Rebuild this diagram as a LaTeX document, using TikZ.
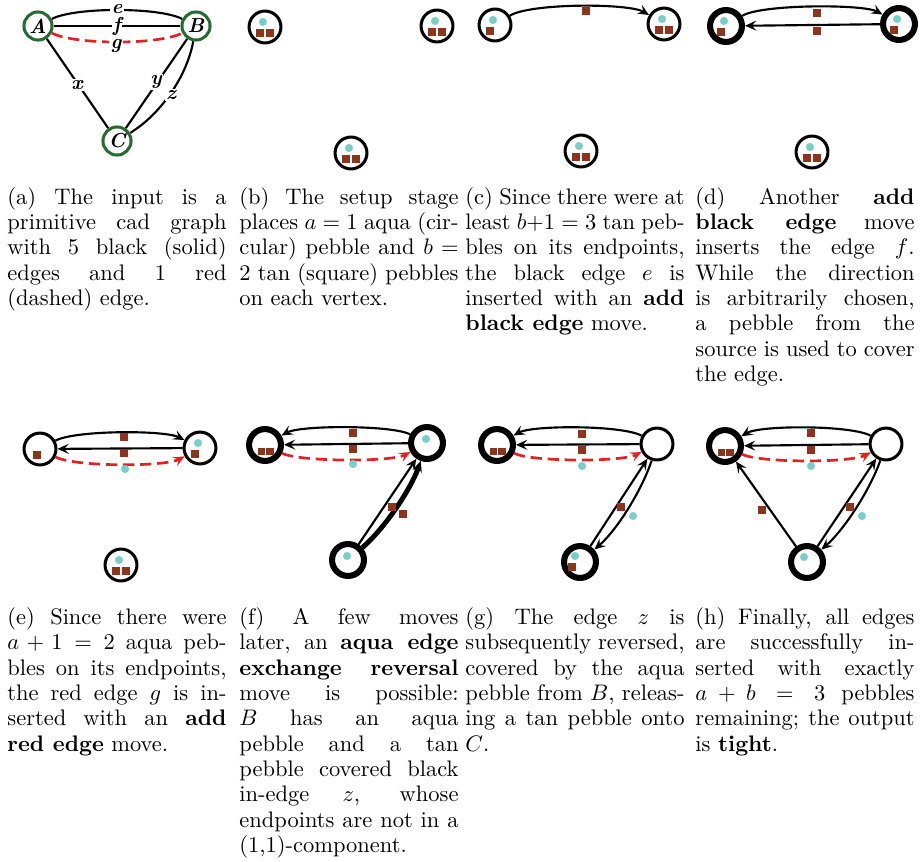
\documentclass[tikz,border=0pt]{standalone}
\usetikzlibrary{arrows.meta}
\definecolor{aquap}{RGB}{120,206,200}
\definecolor{tanp}{RGB}{142,52,28}
\definecolor{redd}{RGB}{228,32,36}
\definecolor{grn}{RGB}{38,108,48}
\newlength\capw
\setlength\capw{97.5pt}
\newcommand\capl[1]{\hbox to\capw{#1}}
\newcommand\cape[1]{\hbox{#1}}
\newcommand\captext[1]{\vtop{\baselineskip=11.28pt\lineskiplimit=-20pt\relax #1}}
\tikzset{
  >={Stealth[length=5pt,width=4.4pt,inset=2pt]},
  vtx/.style={circle, draw, line width=1.35pt, minimum size=14.2pt, inner sep=0pt},
  vtxb/.style={vtx, line width=2.7pt},
  gvtx/.style={circle, draw=grn, line width=1.35pt, minimum size=12.5pt, inner sep=0pt, font=\fontsize{9}{10}\selectfont\bfseries\itshape},
  edg/.style={line width=0.95pt},
  edgb/.style={line width=2.2pt},
  redl/.style={draw=redd, line width=1.2pt, dash pattern=on 5pt off 2.6pt},
  aq/.style={circle, fill=aquap, minimum size=3.6pt, inner sep=0pt},
  tn/.style={rectangle, fill=tanp, minimum size=3.4pt, inner sep=0pt},
  elab/.style={fill=white, inner sep=0.6pt, font=\fontsize{9}{10}\selectfont\bfseries\itshape},
  captxt/.style={anchor=base west, inner sep=0pt},
}
% pebble groups on a vertex
\newcommand\pfull[1]{%
  \node[aq] (#1-a) at ([shift={(-2,-5)}]#1.center) {};
  \node[tn] (#1-s1) at ([shift={(-5,6)}]#1.center) {};
  \node[tn] (#1-s2) at ([shift={(5,6)}]#1.center) {};}
\newcommand\pone[1]{%
  \node[aq] (#1-a) at ([shift={(-2,-5)}]#1.center) {};
  \node[tn] (#1-s1) at ([shift={(-5,6)}]#1.center) {};}
\newcommand\ptwo[1]{%
  \node[tn] (#1-s1) at ([shift={(-3.5,6.5)}]#1.center) {};
  \node[tn] (#1-s2) at ([shift={(5,6.5)}]#1.center) {};}
\newcommand\paq[1]{%
  \node[aq] (#1-a) at ([shift={(-1,-4)}]#1.center) {};}
\begin{document}
\begin{tikzpicture}[x=0.445pt,y=-0.445pt]
\useasboundingbox (0,0) rectangle (924,861);
% ---------------- (a)
\node[gvtx] (aA) at (38,26) {A};
\node[gvtx] (aB) at (196,26) {B};
\node[gvtx] (aC) at (117,141) {C};
\draw[edg] (aA) .. controls (75,7) and (159,7) .. (aB);
\draw[edg] (aA) -- (aB);
\draw[redl] (aA) .. controls (75,45) and (159,45) .. (aB);
\draw[edg] (aA) -- (aC);
\draw[edg] (aB) -- (aC);
\draw[edg] (aB) .. controls (187,76) and (161,114) .. (aC);
\node[elab] (le) at (117,9) {e};
\node[elab] (lf) at (117,26) {f};
\node[elab] (lg) at (116,46) {g};
\node[elab] (lx) at (77,85) {x};
\node[elab] (ly) at (156,82) {y};
\node[elab] (lz) at (171,95) {z};
% ---------------- (b)
\node[vtx] (bA) at (265,27) {};
\node[vtx] (bB) at (437,26) {};
\node[vtx] (bC) at (351,153) {};
\pfull{bA}\pfull{bB}\pfull{bC}
% ---------------- (c)
\node[vtx] (cA) at (495,25) {};
\node[vtx] (cB) at (664,24) {};
\node[vtx] (cC) at (581,151) {};
\draw[edg,->] (cA) .. controls (530,3) and (629,3) .. (cB);
\node[tn] (ce) at (586,11) {};
\pone{cA}\pfull{cB}\pfull{cC}
% ---------------- (d)
\node[vtxb] (dA) at (726,26) {};
\node[vtxb] (dB) at (899,24) {};
\node[vtx] (dC) at (812,152) {};
\draw[edg,->] (dA) .. controls (761,4) and (864,4) .. (dB);
\draw[edg,->] (dB) -- (dA);
\node[tn] (de) at (817,13) {};
\node[tn] (df) at (817,31) {};
\pone{dA}\pone{dB}\pfull{dC}
% ---------------- (e)
\node[vtx] (eA) at (40,449) {};
\node[vtx] (eB) at (200,448) {};
\node[vtx] (eC) at (121,565) {};
\draw[edg,->] (eA) .. controls (75,430) and (165,430) .. (eB);
\draw[edg,->] (eB) -- (eA);
\draw[redl,->] (eA) .. controls (75,467) and (165,467) .. (eB);
\node[tn] (ee) at (124,437) {};
\node[tn] (ef) at (124,453) {};
\node[aq] (eg) at (125,469) {};
\node[tn] (eA-s1) at ([shift={(-3,6)}]eA.center) {};
\pone{eB}\pfull{eC}
% ---------------- (f)
\node[vtxb] (fA) at (265,445) {};
\node[vtxb] (fB) at (427,443) {};
\node[vtxb] (fC) at (348,560) {};
\draw[edg,->] (fB) .. controls (392,425) and (300,425) .. (fA);
\draw[edg,->] (fB) -- (fA);
\draw[redl,->] (fA) .. controls (300,462) and (392,462) .. (fB);
\draw[edg,->] (fC) -- (fB);
\draw[edgb,->] (fC) .. controls (385,528) and (411,489) .. (fB);
\node[tn] (fe) at (353,433) {};
\node[tn] (ff) at (353,449) {};
\node[aq] (fg) at (353,464) {};
\node[tn] (fy) at (392,507) {};
\node[tn] (fz) at (403,514) {};
\ptwo{fA}\paq{fB}\paq{fC}
% ---------------- (g)
\node[vtxb] (gA) at (497,445) {};
\node[vtx] (gB) at (657,444) {};
\node[vtxb] (gC) at (580,562) {};
\draw[edg,->] (gB) .. controls (622,425) and (532,425) .. (gA);
\draw[edg,->] (gB) -- (gA);
\draw[redl,->] (gA) .. controls (532,462) and (622,462) .. (gB);
\draw[edg,->] (gC) -- (gB);
\draw[edg,->] (gB) .. controls (642,490) and (617,530) .. (gC);
\node[tn] (ge) at (582,434) {};
\node[tn] (gf) at (582,450) {};
\node[aq] (gg) at (582,466) {};
\node[tn] (gy) at (621,507) {};
\node[aq] (gz) at (633,516) {};
\ptwo{gA}
\node[aq] (gC-a) at ([shift={(-5,-6)}]gC.center) {};
\node[tn] (gC-s1) at ([shift={(-8,5)}]gC.center) {};
% ---------------- (h)
\node[vtxb] (hA) at (725,446) {};
\node[vtx] (hB) at (886,444) {};
\node[vtxb] (hC) at (807,562) {};
\draw[edg,->] (hB) .. controls (851,425) and (760,425) .. (hA);
\draw[edg,->] (hB) -- (hA);
\draw[redl,->] (hA) .. controls (760,463) and (851,463) .. (hB);
\draw[edg,->] (hC) -- (hA);
\draw[edg,->] (hC) -- (hB);
\draw[edg,->] (hB) .. controls (870,490) and (844,530) .. (hC);
\node[tn] (he) at (811,433) {};
\node[tn] (hf) at (811,450) {};
\node[aq] (hg) at (811,466) {};
\node[tn] (hx) at (762,510) {};
\node[tn] (hy) at (850,507) {};
\node[aq] (hz) at (862,516) {};
\ptwo{hA}
\node[aq] (hC-a) at ([shift={(-3,-5)}]hC.center) {};
% ---------------- captions
\node[captxt] (ca) at (7,204) {\captext{%
\capl{(a) The input is a}
\capl{primitive cad graph}
\capl{with 5 black (solid)}
\capl{edges and 1 red}
\cape{(dashed) edge.}}};
\node[captxt] (cb) at (239,204) {\captext{%
\capl{(b) The setup stage}
\capl{places $a=1$ aqua (cir-}
\capl{cular) pebble and $b=$}
\capl{2 tan (square) pebbles}
\cape{on each vertex.}}};
\node[captxt] (cc) at (465,204) {\captext{%
\capl{(c) Since there were at}
\capl{least $b{+}1=3$ tan peb-}
\capl{bles on its endpoints,}
\capl{the black edge $e$ is}
\capl{inserted with an \textbf{add}}
\cape{\textbf{black edge} move.}}};
\node[captxt] (cd) at (695,204) {\captext{%
\capl{(d) Another \textbf{add}}
\capl{\textbf{black edge} move}
\capl{inserts the edge $f$.}
\capl{While the direction}
\capl{is arbitrarily chosen,}
\capl{a pebble from the}
\capl{source is used to cover}
\cape{the edge.}}};
\node[captxt] (cpe) at (7,624.5) {\captext{%
\capl{(e) Since there were}
\capl{$a+1=2$ aqua peb-}
\capl{bles on its endpoints,}
\capl{the red edge $g$ is in-}
\capl{serted with an \textbf{add}}
\cape{\textbf{red edge} move.}}};
\node[captxt] (cpf) at (239,624.5) {\captext{%
\capl{(f) A few moves}
\capl{later, an \textbf{aqua edge}}
\capl{\textbf{exchange reversal}}
\capl{move is possible:}
\capl{$B$ has an aqua}
\capl{pebble and a tan}
\capl{pebble covered black}
\capl{in-edge $z$, whose}
\capl{endpoints are not in a}
\cape{(1,1)-component.}}};
\node[captxt] (cpg) at (465,624.5) {\captext{%
\capl{(g) The edge $z$ is}
\capl{subsequently reversed,}
\capl{covered by the aqua}
\capl{pebble from $B$, releas-}
\capl{ing a tan pebble onto}
\cape{$C$.}}};
\node[captxt] (cph) at (695,624.5) {\captext{%
\capl{(h) Finally, all edges}
\capl{are successfully in-}
\capl{serted with exactly}
\capl{$a+b=3$ pebbles}
\capl{remaining; the output}
\cape{is \textbf{tight}.}}};
\end{tikzpicture}
\end{document}
